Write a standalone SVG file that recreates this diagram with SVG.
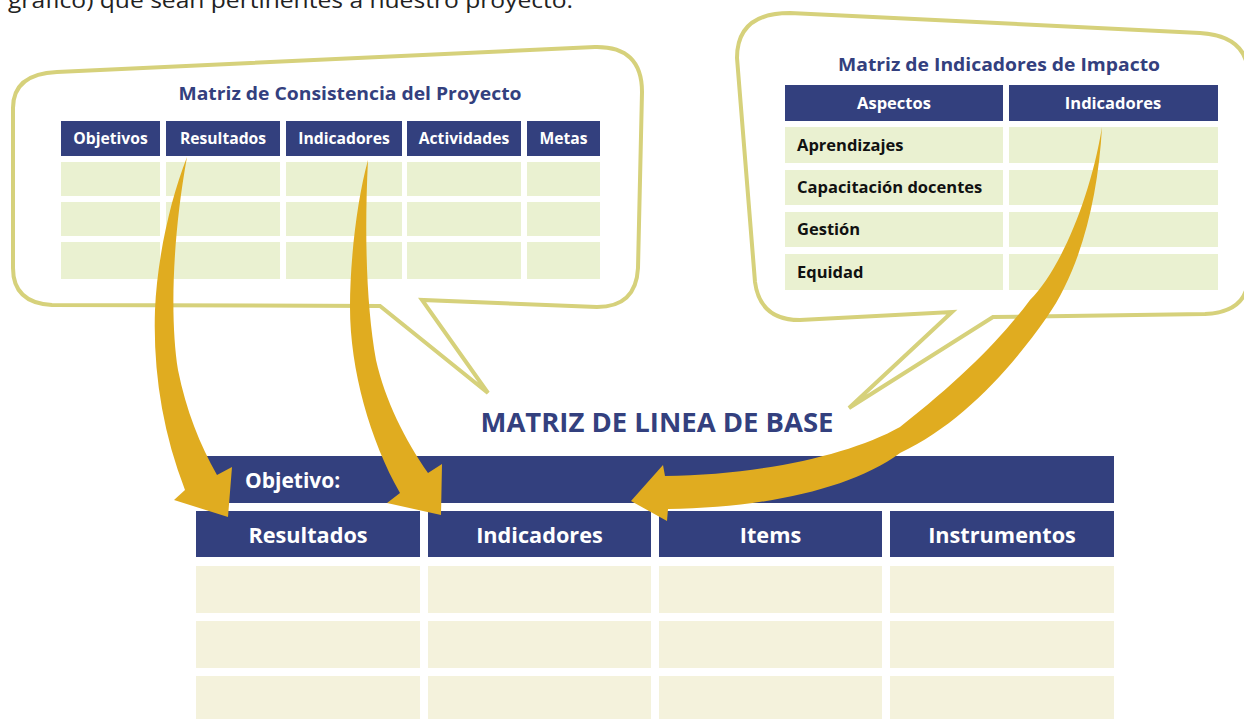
<svg xmlns="http://www.w3.org/2000/svg" width="1244" height="719" viewBox="0 0 1244 719">
<style>
  .bubble{fill:#ffffff;stroke:#d6d17b;stroke-width:4;stroke-linejoin:miter}
  .hdr{fill:#33407e}
  .cellG{fill:#eaf1d1}
  .cellC{fill:#f4f2dc}
  .arrow{fill:#e0ac20}
  .title{font-family:"Open Sans","Liberation Sans",sans-serif;font-weight:bold;fill:#33407e;text-anchor:middle}
  .ht{font-family:"Open Sans","Liberation Sans",sans-serif;font-weight:bold;fill:#ffffff;text-anchor:middle}
  .hs{font-family:"Open Sans","Liberation Sans",sans-serif;font-weight:bold;fill:#ffffff;text-anchor:start}
  .lbl{font-family:"Open Sans","Liberation Sans",sans-serif;font-weight:bold;fill:#111111}
  .intro{font-family:"Open Sans","Liberation Sans",sans-serif;fill:#222222}
</style>
<rect width="1244" height="719" fill="#ffffff"/>
<text class="intro" x="8" y="8" font-size="22" textLength="565" lengthAdjust="spacingAndGlyphs">gráfico) que sean pertinentes a nuestro proyecto.</text>

<g id="bubble-consistencia">
  <path class="bubble" d="M57,72 L595,47 Q642,46 642,92 L638,268 Q636,307 597,307 L422,300 L488,393 L380,306 L52,305 Q13,303 13,268 L13,108 Q13,74 57,72 Z"/>
  <text class="title" x="350" y="100" font-size="18.5" textLength="343" lengthAdjust="spacingAndGlyphs">Matriz de Consistencia del Proyecto</text>
  <rect class="hdr" x="61" y="121" width="99" height="35"/>
  <rect class="hdr" x="166" y="121" width="114" height="35"/>
  <rect class="hdr" x="286" y="121" width="116" height="35"/>
  <rect class="hdr" x="407" y="121" width="114" height="35"/>
  <rect class="hdr" x="527" y="121" width="73" height="35"/>
  <text class="ht" x="110.5" y="144" font-size="15.7">Objetivos</text>
  <text class="ht" x="223" y="144" font-size="15.7">Resultados</text>
  <text class="ht" x="344" y="144" font-size="15.7">Indicadores</text>
  <text class="ht" x="464" y="144" font-size="15.7">Actividades</text>
  <text class="ht" x="563.5" y="144" font-size="15.7">Metas</text>
  <g class="cellG">
    <rect x="61" y="162" width="99" height="34"/><rect x="166" y="162" width="114" height="34"/><rect x="286" y="162" width="116" height="34"/><rect x="407" y="162" width="114" height="34"/><rect x="527" y="162" width="73" height="34"/>
    <rect x="61" y="202" width="99" height="34"/><rect x="166" y="202" width="114" height="34"/><rect x="286" y="202" width="116" height="34"/><rect x="407" y="202" width="114" height="34"/><rect x="527" y="202" width="73" height="34"/>
    <rect x="61" y="242" width="99" height="37"/><rect x="166" y="242" width="114" height="37"/><rect x="286" y="242" width="116" height="37"/><rect x="407" y="242" width="114" height="37"/><rect x="527" y="242" width="73" height="37"/>
  </g>
</g>

<g id="bubble-impacto">
  <path class="bubble" d="M790,13 L1200,33 Q1246,36 1248,72 L1248,280 Q1246,312 1205,314 L993,317 L849,408 L952,312 L800,320 Q760,320 755,282 L737,58 Q737,13 790,13 Z"/>
  <text class="title" x="999" y="71" font-size="18.5" textLength="322" lengthAdjust="spacingAndGlyphs">Matriz de Indicadores de Impacto</text>
  <rect class="hdr" x="785" y="85" width="218" height="36"/>
  <rect class="hdr" x="1009" y="85" width="209" height="36"/>
  <text class="ht" x="894" y="109" font-size="16.5">Aspectos</text>
  <text class="ht" x="1113" y="109" font-size="16.5">Indicadores</text>
  <g class="cellG">
    <rect x="785" y="127" width="218" height="36"/><rect x="1009" y="127" width="209" height="36"/>
    <rect x="785" y="170" width="218" height="35"/><rect x="1009" y="170" width="209" height="35"/>
    <rect x="785" y="212" width="218" height="35"/><rect x="1009" y="212" width="209" height="35"/>
    <rect x="785" y="254" width="218" height="36"/><rect x="1009" y="254" width="209" height="36"/>
  </g>
  <text class="lbl" x="797" y="151" font-size="16.5">Aprendizajes</text>
  <text class="lbl" x="797" y="193" font-size="16.5">Capacitación docentes</text>
  <text class="lbl" x="797" y="235" font-size="16.5">Gestión</text>
  <text class="lbl" x="797" y="278" font-size="16.5">Equidad</text>
</g>

<g id="matriz-linea-base">
  <text class="title" x="657" y="432" font-size="26" textLength="353" lengthAdjust="spacingAndGlyphs">MATRIZ DE LINEA DE BASE</text>
  <rect class="hdr" x="205" y="456" width="909" height="47"/>
  <text class="hs" x="245" y="488" font-size="21">Objetivo:</text>
  <rect class="hdr" x="196" y="511" width="224" height="46"/>
  <rect class="hdr" x="428" y="511" width="223" height="46"/>
  <rect class="hdr" x="659" y="511" width="223" height="46"/>
  <rect class="hdr" x="890" y="511" width="224" height="46"/>
  <text class="ht" x="308" y="543" font-size="21.7">Resultados</text>
  <text class="ht" x="539.5" y="543" font-size="21.7">Indicadores</text>
  <text class="ht" x="770.5" y="543" font-size="21.7">Items</text>
  <text class="ht" x="1002" y="543" font-size="21.7">Instrumentos</text>
  <g class="cellC">
    <rect x="196" y="566" width="224" height="47"/><rect x="428" y="566" width="223" height="47"/><rect x="659" y="566" width="223" height="47"/><rect x="890" y="566" width="224" height="47"/>
    <rect x="196" y="621" width="224" height="47"/><rect x="428" y="621" width="223" height="47"/><rect x="659" y="621" width="223" height="47"/><rect x="890" y="621" width="224" height="47"/>
    <rect x="196" y="676" width="224" height="47"/><rect x="428" y="676" width="223" height="47"/><rect x="659" y="676" width="223" height="47"/><rect x="890" y="676" width="224" height="47"/>
  </g>
</g>

<g id="connectors">
  <path class="arrow" d="M187,157 C170,200 157,260 155,310 C153,370 162,430 185,490 L174,500 L228,517 L232,467 L217,475 C200,445 186,410 178,370 C170,320 172,240 187,157 Z"/>
  <path class="arrow" d="M368,160 C357,200 350,260 350,307 C350,370 370,440 400,493 L387,503 L441,515 L442,464 L428,473 C405,440 385,400 376,360 C367,310 364,240 368,160 Z"/>
  <path class="arrow" d="M1102,127 C1090,200 1060,270 1030,300 C1000,340 960,380 900,427 C850,455 760,475 665,476 L663,465 L631,501 L667,521 L668,509 C760,508 850,490 900,453 C960,425 1010,370 1047,317 C1080,270 1098,200 1102,127 Z"/>
</g>
</svg>
